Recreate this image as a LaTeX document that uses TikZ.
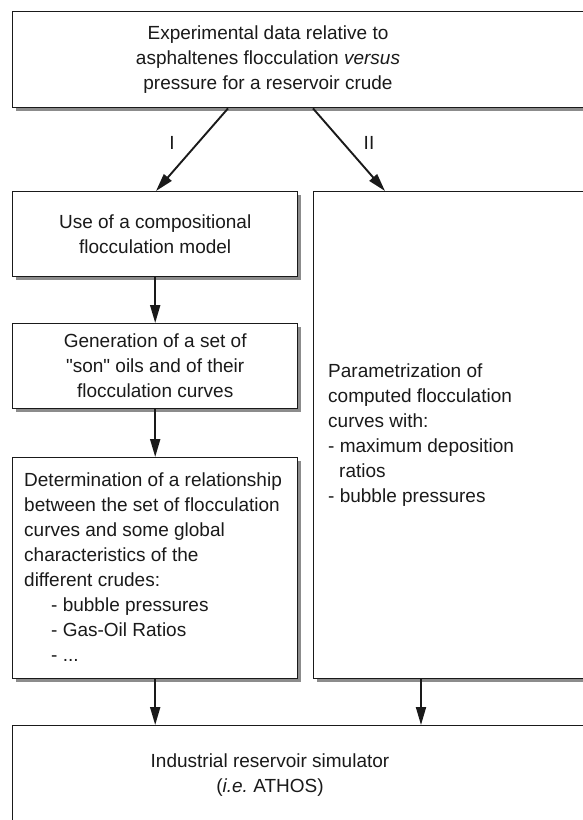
\documentclass[tikz,border=0pt]{standalone}
\usepackage{fontspec}
\setmainfont{Liberation Sans}
\usetikzlibrary{arrows.meta,shadows}
\definecolor{ink}{HTML}{1A1A1A}
\begin{document}
\begin{tikzpicture}[x=1pt,y=-1pt,
  every node/.style={font=\fontsize{19}{25}\selectfont, text=ink},
  box/.style={draw=ink, line width=1.4pt, fill=white, inner sep=0pt, anchor=north west,
    drop shadow={shadow xshift=3.5pt, shadow yshift=-3.5pt, fill=black!45, opacity=1}},
  txt/.style={inner sep=0pt},
  flow/.style={draw=ink, line width=1.9pt, -{Triangle[length=18pt,width=10pt]}}]
\useasboundingbox (0,0) rectangle (583,820);
\clip (0,0) rectangle (583,820);

% boxes
\node[box, minimum width=590pt, minimum height=96pt] (top) at (12,11) {};
\node[txt, align=center] (toptext) at (268,60) {Experimental data relative to\\asphaltenes flocculation \textit{versus}\\pressure for a reservoir crude};

\node[box, minimum width=285pt, minimum height=85pt, align=center] (b1) at (12,191)
  {Use of a compositional\\flocculation model};
\node[box, minimum width=285pt, minimum height=85pt, align=center] (b2) at (12,323)
  {Generation of a set of\\\textquotedbl son\textquotedbl{} oils and of their\\flocculation curves};
\node[box, minimum width=285pt, minimum height=221pt] (b3) at (12,457) {};
\node[txt, align=left, anchor=west] (b3text) at (24,567)
  {Determination of a relationship\\between the set of flocculation\\curves and some global\\characteristics of the\\different crudes:\\\hspace*{27pt}- bubble pressures\\\hspace*{27pt}- Gas-Oil Ratios\\\hspace*{27pt}- ...};

\node[box, minimum width=290pt, minimum height=487pt] (rb) at (313,191) {};
\node[txt, align=left, anchor=west] (rtext) at (328,435) {Parametrization of\\computed flocculation\\curves with:\\- maximum deposition\\\hspace*{11pt}ratios\\- bubble pressures};

\node[box, minimum width=590pt, minimum height=98pt] (bot) at (12,725) {};
\node[txt, align=center] (bottext) at (270,775) {Industrial reservoir simulator\\(\textit{i.e.}\ ATHOS)};

% labels
\node[txt] (l1) at (172,143) {I};
\node[txt] (l2) at (369,143) {II};

% connectors
\draw[flow] ([xshift=216pt]top.south west) -- ([xshift=144pt]b1.north west);
\draw[flow] ([xshift=301pt]top.south west) -- ([xshift=72pt]rb.north west);
\draw[flow] (b1.south) -- (b2.north);
\draw[flow] (b2.south) -- (b3.north);
\draw[flow] (b3.south) -- (b3.south |- bot.north);
\draw[flow] ([xshift=108pt]rb.south west) -- ([xshift=108pt]rb.south west |- bot.north);
\end{tikzpicture}
\end{document}
